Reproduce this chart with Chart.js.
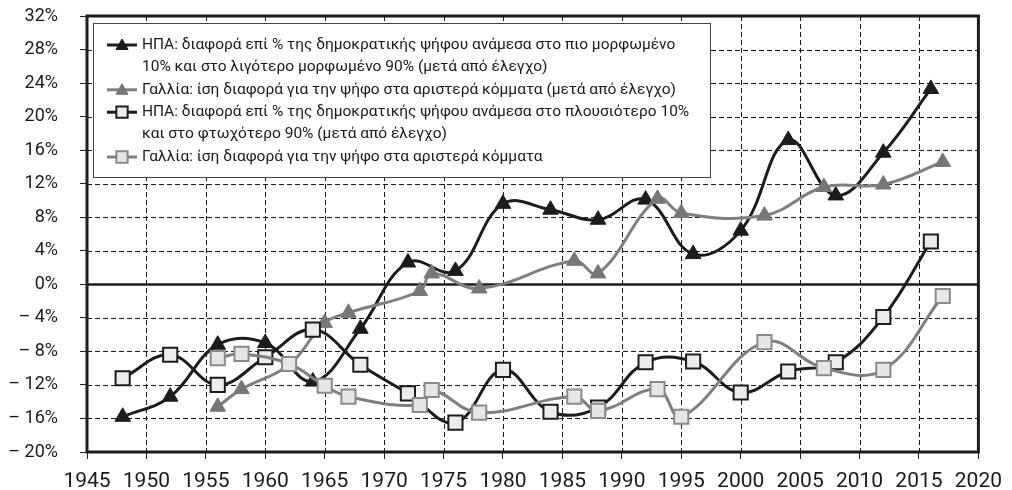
<!DOCTYPE html>
<html>
<head>
<meta charset="utf-8">
<script src="https://cdn.jsdelivr.net/npm/chart.js@4"></script>
<style>
  html, body { margin: 0; padding: 0; background: #fff; }
  #wrap { width: 1012px; height: 490px; }
</style>
</head>
<body>
<div id="wrap"><canvas id="chart" width="1012" height="490"></canvas></div>
<script>
// ─── Data ────────────────────────────────────────────────────────────────────
const usEduYears   = [1948, 1952, 1956, 1960, 1964, 1968, 1972, 1976, 1980, 1984, 1988, 1992, 1996, 2000, 2004, 2008, 2012, 2016];
const usEduValues  = [-15.8, -13.4, -7.2, -7.0, -11.6, -5.3, 2.6, 1.6, 9.6, 8.9, 7.7, 10.1, 3.6, 6.4, 17.2, 10.6, 15.7, 23.3];

const frEduYears   = [1956, 1958, 1962, 1965, 1967, 1973, 1974, 1978, 1986, 1988, 1993, 1995, 2002, 2007, 2012, 2017];
const frEduValues  = [-14.6, -12.5, -9.6, -4.6, -3.4, -0.8, 1.3, -0.5, 2.8, 1.3, 10.2, 8.5, 8.2, 11.6, 11.9, 14.6];

const usIncYears   = [1948, 1952, 1956, 1960, 1964, 1968, 1972, 1976, 1980, 1984, 1988, 1992, 1996, 2000, 2004, 2008, 2012, 2016];
const usIncValues  = [-11.2, -8.4, -12.0, -8.7, -5.4, -9.6, -13.0, -16.5, -10.2, -15.2, -14.7, -9.3, -9.2, -12.9, -10.4, -9.3, -3.9, 5.1];

const frIncYears   = [1956, 1958, 1962, 1965, 1967, 1973, 1974, 1978, 1986, 1988, 1993, 1995, 2002, 2007, 2012, 2017];
const frIncValues  = [-8.8, -8.3, -9.5, -12.1, -13.4, -14.4, -12.6, -15.3, -13.4, -15.1, -12.5, -15.8, -6.9, -10.0, -10.2, -1.4];

const legendLabels = [
  ['ΗΠΑ: διαφορά επί % της δημοκρατικής ψήφου ανάμεσα στο πιο μορφωμένο',
   '10% και στο λιγότερο μορφωμένο 90% (μετά από έλεγχο)'],
  ['Γαλλία: ίση διαφορά για την ψήφο στα αριστερά κόμματα (μετά από έλεγχο)'],
  ['ΗΠΑ: διαφορά επί % της δημοκρατικής ψήφου ανάμεσα στο πλουσιότερο 10%',
   'και στο φτωχότερο 90% (μετά από έλεγχο)'],
  ['Γαλλία: ίση διαφορά για την ψήφο στα αριστερά κόμματα'],
];

const FONT = 'Roboto, "DejaVu Sans", sans-serif';
const BLACK = '#1c1c1c';
const GREY = '#7f7f7f';

function toPoints(xs, ys) {
  return xs.map((x, i) => ({ x, y: ys[i] }));
}

// ─── Plugins ─────────────────────────────────────────────────────────────────
const zeroLine = {
  id: 'zeroLine',
  beforeDatasetsDraw(chart) {
    const { ctx, chartArea: a, scales: { y } } = chart;
    ctx.save();
    ctx.setLineDash([]);
    ctx.strokeStyle = BLACK;
    ctx.lineWidth = 2.5;
    const zy = Math.round(y.getPixelForValue(0)) + 0.5;
    ctx.beginPath();
    ctx.moveTo(a.left, zy);
    ctx.lineTo(a.right, zy);
    ctx.stroke();
    ctx.restore();
  },
};

const frame = {
  id: 'frame',
  afterDatasetsDraw(chart) {
    const { ctx, chartArea: a } = chart;
    ctx.save();
    ctx.setLineDash([]);
    ctx.strokeStyle = BLACK;
    ctx.lineWidth = 3;
    ctx.strokeRect(a.left, a.top, a.right - a.left, a.bottom - a.top);
    ctx.restore();
  },
};

const legendBox = {
  id: 'legendBox',
  afterDraw(chart) {
    const { ctx, chartArea: a } = chart;
    const left = a.left + 6, top = a.top + 7;
    const width = 617, height = 154;
    const lineH = 22.4;
    ctx.save();
    ctx.setLineDash([]);
    ctx.fillStyle = '#fff';
    ctx.fillRect(left, top, width, height);
    ctx.strokeStyle = '#444';
    ctx.lineWidth = 1;
    ctx.strokeRect(left + 0.5, top + 0.5, width, height);

    ctx.font = '15.5px ' + FONT;
    ctx.textBaseline = 'middle';
    let row = 0;
    chart.data.datasets.forEach((ds, i) => {
      const cy = top + 22 + row * lineH;
      ctx.strokeStyle = ds.borderColor;
      ctx.lineWidth = 3;
      ctx.beginPath();
      ctx.moveTo(left + 14, cy);
      ctx.lineTo(left + 44, cy);
      ctx.stroke();
      const tri = ds.pointStyle === 'triangle';
      ctx.fillStyle = ds.pointBackgroundColor;
      ctx.strokeStyle = ds.pointBorderColor;
      ctx.lineWidth = ds.pointBorderWidth;
      Chart.helpers.drawPoint(ctx, {
        pointStyle: ds.pointStyle,
        radius: tri ? 7 : 8,
        borderWidth: ds.pointBorderWidth,
      }, left + 29, cy + (tri ? 1 : 0));
      ctx.fillStyle = '#1a1a1a';
      legendLabels[i].forEach((txt, k) => {
        ctx.fillText(txt, left + 49, top + 22 + (row + k) * lineH);
      });
      row += legendLabels[i].length;
    });
    ctx.restore();
  },
};

// Dashed grid painted last but *behind* everything already on the canvas
// (destination-over), so lines, markers and the white legend box stay on top.
const gridBehind = {
  id: 'gridBehind',
  afterDraw(chart) {
    const { ctx, chartArea: a, scales: { x, y } } = chart;
    ctx.save();
    ctx.globalCompositeOperation = 'destination-over';
    ctx.globalAlpha = 1;
    ctx.strokeStyle = '#1a1a1a';
    ctx.lineWidth = 1;
    ctx.setLineDash([5, 3]);
    ctx.lineDashOffset = 0;
    ctx.beginPath();
    x.ticks.forEach(t => {
      const px = Math.round(x.getPixelForValue(t.value)) + 0.5;
      ctx.moveTo(px, a.top);
      ctx.lineTo(px, a.bottom);
    });
    y.ticks.forEach(t => {
      const py = Math.round(y.getPixelForValue(t.value)) + 0.5;
      ctx.moveTo(a.left, py);
      ctx.lineTo(a.right, py);
    });
    ctx.stroke();
    ctx.restore();
  },
};

const datasets = [
  {
    label: 'usEdu',
    data: toPoints(usEduYears, usEduValues),
    borderColor: BLACK,
    pointStyle: 'triangle',
    pointBackgroundColor: BLACK,
    pointBorderColor: BLACK,
    pointBorderWidth: 1,
    pointRadius: 9,
    order: 4,
  },
  {
    label: 'frEdu',
    data: toPoints(frEduYears, frEduValues),
    borderColor: GREY,
    pointStyle: 'triangle',
    pointBackgroundColor: '#777',
    pointBorderColor: '#777',
    pointBorderWidth: 1,
    pointRadius: 9,
    order: 3,
  },
  {
    label: 'usInc',
    data: toPoints(usIncYears, usIncValues),
    borderColor: BLACK,
    pointStyle: 'rect',
    pointBackgroundColor: '#ececec',
    pointBorderColor: BLACK,
    pointBorderWidth: 2,
    pointRadius: 10,
    order: 2,
  },
  {
    label: 'frInc',
    data: toPoints(frIncYears, frIncValues),
    borderColor: GREY,
    pointStyle: 'rect',
    pointBackgroundColor: '#e6e6e6',
    pointBorderColor: '#8a8a8a',
    pointBorderWidth: 2,
    pointRadius: 10,
    order: 1,
  },
];
datasets.forEach(ds => {
  ds.borderWidth = 3;
  ds.tension = 0.4;
  ds.fill = false;
  ds.pointHoverRadius = ds.pointRadius;
});

new Chart(document.getElementById('chart'), {
  type: 'line',
  data: { datasets },
  plugins: [zeroLine, frame, legendBox, gridBehind],
  options: {
    responsive: false,
    devicePixelRatio: 1,
    animation: false,
    layout: { padding: { top: 16, right: 29, bottom: 0, left: 0 } },
    plugins: { legend: { display: false }, tooltip: { enabled: false } },
    scales: {
      x: {
        type: 'linear',
        min: 1945,
        max: 2020,
        ticks: {
          stepSize: 5,
          color: '#1a1a1a',
          font: { family: FONT, size: 21 },
          padding: 10,
          maxRotation: 0,
          callback: v => String(v),
        },
        grid: { drawOnChartArea: false, tickLength: 7, tickColor: '#222' },
        border: { display: false },
        afterFit: s => { s.height = 38; },
      },
      y: {
        min: -20,
        max: 32,
        ticks: {
          stepSize: 4,
          color: '#1a1a1a',
          font: { family: FONT, size: 18 },
          padding: 22,
          callback: v => (v < 0 ? '– ' + Math.abs(v) : v) + '%',
        },
        grid: { drawOnChartArea: false, tickLength: 7, tickColor: '#222' },
        border: { display: false },
        // tick padding would otherwise be added to the top/bottom padding
        afterFit: s => { s.width = 87; s.paddingTop = 0; s.paddingBottom = 0; },
      },
    },
  },
});
</script>
</body>
</html>
